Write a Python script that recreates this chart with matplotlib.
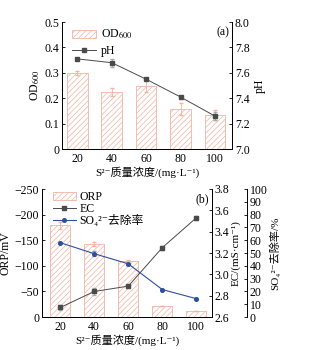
import numpy as np
import matplotlib
matplotlib.use('Agg')
import matplotlib.pyplot as plt
from matplotlib.lines import Line2D
from matplotlib.patches import Patch

plt.rcParams['font.family'] = ['Liberation Serif', 'Noto Sans CJK SC', 'DejaVu Sans']
plt.rcParams['mathtext.fontset'] = 'stix'
plt.rcParams['font.size'] = 8.5
plt.rcParams['hatch.linewidth'] = 0.5
plt.rcParams['axes.linewidth'] = 0.7
plt.rcParams['legend.numpoints'] = 1

# sulfide concentration, mg/L
conc = [20, 40, 60, 80, 100]

# (a) OD600 and pH
od600 = [0.300, 0.226, 0.248, 0.158, 0.134]
od600_err = [0.008, 0.016, 0.022, 0.022, 0.018]
ph = [7.71, 7.68, 7.55, 7.41, 7.26]
ph_err = [0.005, 0.03, 0.005, 0.005, 0.03]

# (b) ORP, EC and sulfate removal
orp = [-179, -143, -109, -22, -12]
orp_err = [7, 4, 3, 0.5, 0.5]
ec = [2.69, 2.84, 2.89, 3.25, 3.53]
ec_err = [0.02, 0.03, 0.005, 0.02, 0.02]
so4 = [58.1, 49.5, 41.6, 21.5, 14.4]
so4_err = [0.5, 2.0, 1.0, 0.5, 0.5]

bar_edge = '#f2b3a1'
gray = '#4a4a4a'
blue = '#2c4f9e'
xlab = 'S²⁻质量浓度/(mg·L⁻¹)'
lab_fs = 8


def hatch_patch():
    return Patch(facecolor='white', edgecolor=bar_edge, hatch='//////', linewidth=0.6)


fig = plt.figure(figsize=(3.26, 3.5), dpi=100)

# ---- panel (a)
ax1 = fig.add_axes([0.190, 0.574, 0.522, 0.363])
ax1.bar(conc, od600, width=12, color='white', edgecolor=bar_edge, hatch='//////', linewidth=0.6)
ax1.errorbar(conc, od600, yerr=od600_err, fmt='none', ecolor=bar_edge, elinewidth=0.6, capsize=1.5)
ax1.set_xlim(11, 110)
ax1.set_ylim(0, 0.5)
ax1.set_yticks([0, 0.1, 0.2, 0.3, 0.4, 0.5])
ax1.set_yticklabels(['0', '0.1', '0.2', '0.3', '0.4', '0.5'])
ax1.set_xticks(conc)
ax1.set_ylabel('OD$_{600}$', labelpad=2)
ax1.set_xlabel(xlab, labelpad=1, fontsize=lab_fs)
ax1.spines['top'].set_visible(False)
ax1.tick_params(axis='y', direction='in', length=2.5, width=0.6, pad=2)
ax1.tick_params(axis='x', length=0, pad=3)

ax1r = ax1.twinx()
ax1r.errorbar(conc, ph, yerr=ph_err, color=gray, ecolor='#aaaaaa', marker='s', ms=2.8,
              lw=0.7, elinewidth=0.6, capsize=1.5)
ax1r.set_ylim(7.0, 8.0)
ax1r.set_yticks([7.0, 7.2, 7.4, 7.6, 7.8, 8.0])
ax1r.set_ylabel('pH', labelpad=3)
ax1r.spines['top'].set_visible(False)
ax1r.tick_params(axis='y', direction='in', length=2.5, width=0.6, pad=2)
ax1r.text(0.985, 0.97, '(a)', transform=ax1r.transAxes, ha='right', va='top')

ax1r.legend([hatch_patch(), Line2D([], [], color=gray, marker='s', ms=2.8, lw=0.7)],
            ['OD$_{600}$', 'pH'], loc='upper left', bbox_to_anchor=(0.02, 1.01), frameon=False,
            handlelength=2.0, handletextpad=0.4, labelspacing=0.3, borderaxespad=0.2)

# ---- panel (b)
ax2 = fig.add_axes([0.129, 0.094, 0.521, 0.366])
ax2.bar(conc, orp, width=12, color='white', edgecolor=bar_edge, hatch='//////', linewidth=0.6)
ax2.errorbar(conc, orp, yerr=orp_err, fmt='none', ecolor=bar_edge, elinewidth=0.6, capsize=1.5)
ax2.set_xlim(9.3, 109.2)
ax2.set_ylim(0, -250)
ax2.set_yticks([0, -50, -100, -150, -200, -250])
ax2.set_yticklabels(['0', '−50', '−100', '−150', '−200', '−250'])
ax2.set_xticks(conc)
ax2.set_ylabel('ORP/mV', labelpad=2)
ax2.set_xlabel(xlab, labelpad=1, fontsize=lab_fs)
ax2.spines['top'].set_visible(False)
ax2.tick_params(axis='y', direction='in', length=2.5, width=0.6, pad=2)
ax2.tick_params(axis='x', length=0, pad=3)

ax2r = ax2.twinx()
ax2r.errorbar(conc, ec, yerr=ec_err, color=gray, ecolor='#aaaaaa', marker='s', ms=2.8,
              lw=0.7, elinewidth=0.6, capsize=1.5)
ax2r.set_ylim(2.6, 3.8)
ax2r.set_yticks([2.6, 2.8, 3.0, 3.2, 3.4, 3.6, 3.8])
ax2r.set_ylabel('EC/(mS·cm⁻¹)', labelpad=1, fontsize=lab_fs)
ax2r.spines['top'].set_visible(False)
ax2r.tick_params(axis='y', direction='in', length=2.5, width=0.6, pad=2)
ax2r.text(0.985, 0.97, '(b)', transform=ax2r.transAxes, ha='right', va='top')

ax2s = ax2.twinx()
ax2s.spines['right'].set_position(('axes', 1.206))
ax2s.errorbar(conc, so4, yerr=so4_err, color=blue, ecolor='#8899cc', marker='o', ms=2.6,
              lw=0.8, elinewidth=0.6, capsize=1.5)
ax2s.set_ylim(0, 100)
ax2s.set_yticks(np.arange(0, 101, 10))
ax2s.set_ylabel('SO₄²⁻去除率/%', labelpad=1, fontsize=lab_fs)
for s in ['top', 'left', 'bottom']:
    ax2s.spines[s].set_visible(False)
ax2s.tick_params(axis='y', direction='in', length=2.5, width=0.6, pad=2)

ax2s.legend([hatch_patch(),
             Line2D([], [], color=gray, marker='s', ms=2.8, lw=0.7),
             Line2D([], [], color=blue, marker='o', ms=2.6, lw=0.8)],
            ['ORP', 'EC', 'SO₄²⁻去除率'], loc='upper left', bbox_to_anchor=(0.02, 1.04),
            frameon=False, handlelength=2.0, handletextpad=0.3, labelspacing=0.0,
            borderaxespad=0.2)

fig.savefig('out.png', dpi=100)
